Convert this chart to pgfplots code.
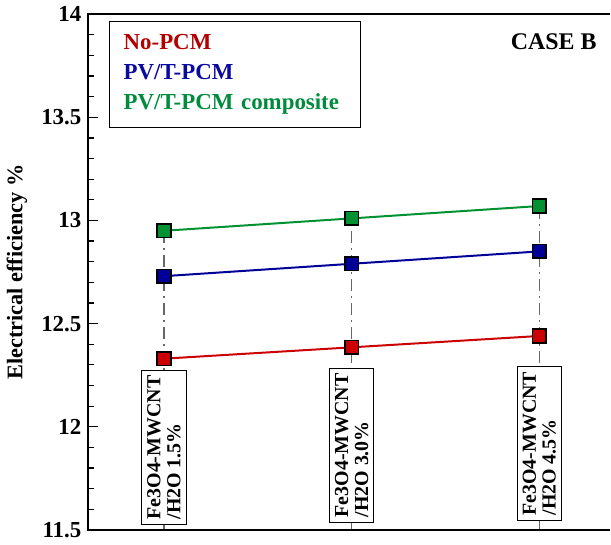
\documentclass[border=0pt]{standalone}
\usepackage{pgfplots}
\pgfplotsset{compat=1.18}
\usepackage{fontspec}
\setmainfont{Liberation Serif}
\definecolor{cred}{RGB}{204,0,0}
\definecolor{cblue}{RGB}{0,0,150}
\definecolor{cgreen}{RGB}{0,145,50}
\definecolor{lred}{RGB}{180,0,0}
\definecolor{lblue}{RGB}{10,10,160}
\definecolor{lgreen}{RGB}{0,140,60}
\begin{document}
\begin{tikzpicture}
\begin{axis}[
  width=262pt, height=259pt, scale only axis,
  xmin=0.597, xmax=3.377, ymin=11.5, ymax=14,
  ytick={11.5,12,12.5,13,13.5,14}, minor y tick num=4,
  xtick={1,2,3}, xticklabels={,,},
  tick align=inside, xtick pos=bottom, ytick pos=left,
  major tick length=5pt, minor tick length=3pt,
  tick style={black, line width=0.6pt},
  axis line style={draw=none},
  /pgf/number format/assume math mode=true,
  yticklabel style={font=\bfseries\fontsize{11.5}{13}\selectfont},
  ylabel={Electrical efficiency \%},
  ylabel style={at={(axis description cs:-0.137,0.5)}, anchor=center, font=\bfseries\fontsize{11.2}{13}\selectfont},
  clip=false,
]
% dash-dot guide lines
\addplot[draw=black!60, line width=0.6pt, dash pattern=on 6pt off 2.5pt on 1pt off 2.5pt, forget plot] coordinates {(1,11.5) (1,12.95)};
\addplot[draw=black!60, line width=0.6pt, dash pattern=on 6pt off 2.5pt on 1pt off 2.5pt, forget plot] coordinates {(2,11.5) (2,13.01)};
\addplot[draw=black!60, line width=0.6pt, dash pattern=on 6pt off 2.5pt on 1pt off 2.5pt, forget plot] coordinates {(3,11.5) (3,13.07)};
% series
\addplot[cred, line width=1pt, mark=square*, mark size=3.4pt, mark options={fill=cred, draw=black, line width=0.8pt, solid}] coordinates {(1,12.33) (2,12.385) (3,12.44)};
\addplot[cblue, line width=1pt, mark=square*, mark size=3.4pt, mark options={fill=cblue, draw=black, line width=0.8pt, solid}] coordinates {(1,12.73) (2,12.79) (3,12.85)};
\addplot[cgreen, line width=1pt, mark=square*, mark size=3.4pt, mark options={fill=cgreen, draw=black, line width=0.8pt, solid}] coordinates {(1,12.95) (2,13.01) (3,13.07)};
% axis frame (left, top, bottom)
\draw[line width=1pt, line join=miter] (rel axis cs:1,1) -- (rel axis cs:0,1) -- (rel axis cs:0,0) -- (rel axis cs:1,0);
% legend
\node[draw=black, line width=0.5pt, anchor=north west, align=left, text width=112pt, inner xsep=7pt, minimum height=53pt, font=\bfseries\fontsize{11.5}{15}\selectfont] at (rel axis cs:0.040,0.986) {\textcolor{lred}{No-PCM}\\ \textcolor{lblue}{PV/T-PCM}\\ \textcolor{lgreen}{PV/T-PCM composite}};
\node[anchor=east, inner sep=0pt, font=\bfseries\fontsize{12}{14}\selectfont] at (rel axis cs:0.975,0.947) {CASE B};
% category boxes
\node[draw, line width=0.5pt, fill=white, rotate=90, anchor=west, align=left, inner xsep=2.5pt, inner ysep=2.7pt, font=\bfseries\fontsize{10}{10}\selectfont] at (axis cs:1,11.524) {Fe3O4-MWCNT\\/H2O 1.5\%};
\node[draw, line width=0.5pt, fill=white, rotate=90, anchor=west, align=left, inner xsep=2.5pt, inner ysep=2.7pt, font=\bfseries\fontsize{10}{10}\selectfont] at (axis cs:2,11.534) {Fe3O4-MWCNT\\/H2O 3.0\%};
\node[draw, line width=0.5pt, fill=white, rotate=90, anchor=west, align=left, inner xsep=2.5pt, inner ysep=2.7pt, font=\bfseries\fontsize{10}{10}\selectfont] at (axis cs:3,11.543) {Fe3O4-MWCNT\\/H2O 4.5\%};
\end{axis}
\end{tikzpicture}
\end{document}
